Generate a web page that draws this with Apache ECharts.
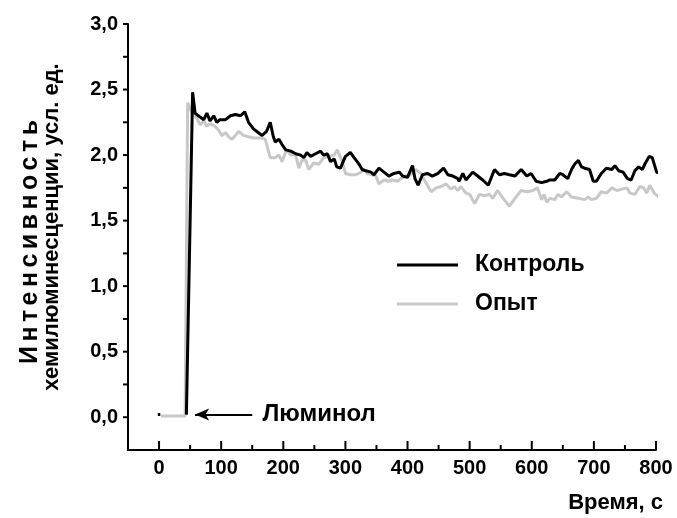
<!DOCTYPE html>
<html>
<head>
    <meta charset="utf-8">
    <title>Хемилюминесценция</title>
    <script src="https://cdn.jsdelivr.net/npm/echarts@6/dist/echarts.min.js"></script>
    <style>
        html, body { margin: 0; padding: 0; background: #fff; }
        #main { width: 677px; height: 518px; }
    </style>
</head>
<body>
<div id="main"></div>
<script type="text/javascript">
    // время, с  и  интенсивность, усл. ед.
    var ctrlTime = [-2, 2, 20, 44, 47, 54, 58, 66, 72, 77, 82, 88, 93, 98, 107, 115, 123, 131, 138, 144, 152, 160, 166, 173, 179, 184, 187, 193, 198, 204, 212, 220, 228, 233, 238, 244, 252, 260, 265, 271, 276, 282, 286, 292, 300, 308, 314, 322, 327, 333, 341, 346, 354, 362, 370, 378, 387, 392, 400, 408, 412, 417, 424, 432, 440, 449, 458, 465, 473, 481, 483, 489, 494, 505, 513, 521, 530, 540, 548, 556, 564, 573, 583, 592, 599, 607, 616, 624, 629, 637, 645, 650, 658, 664, 669, 675, 680, 685, 693, 699, 704, 712, 720, 729, 734, 740, 747, 754, 760, 766, 772, 778, 783, 789, 794, 801, 806];
    var ctrlVal = [0.02, 0.02, null, 0.02, 0.02, 2.48, 2.32, 2.29, 2.27, 2.32, 2.26, 2.30, 2.25, 2.27, 2.27, 2.30, 2.31, 2.30, 2.33, 2.25, 2.20, 2.17, 2.15, 2.18, 2.25, 2.14, 2.10, 2.12, 2.08, 2.04, 2.03, 2.01, 2.00, 1.98, 2.02, 1.99, 2.01, 2.03, 2.00, 2.01, 1.95, 1.97, 1.91, 1.90, 1.99, 2.02, 1.98, 1.93, 1.89, 1.88, 1.87, 1.85, 1.90, 1.87, 1.84, 1.86, 1.87, 1.84, 1.83, 1.92, 1.82, 1.77, 1.85, 1.86, 1.84, 1.86, 1.90, 1.85, 1.84, 1.82, 1.80, 1.86, 1.81, 1.87, 1.84, 1.81, 1.77, 1.89, 1.85, 1.86, 1.85, 1.84, 1.89, 1.84, 1.86, 1.80, 1.79, 1.80, 1.81, 1.81, 1.86, 1.85, 1.82, 1.89, 1.93, 1.96, 1.91, 1.90, 1.89, 1.80, 1.80, 1.86, 1.90, 1.89, 1.92, 1.88, 1.87, 1.82, 1.81, 1.88, 1.91, 1.89, 1.94, 1.99, 1.98, 1.87, 1.86];

    var expTime = [3, 42, 46, 53, 61, 66, 72, 77, 82, 90, 96, 101, 107, 112, 117, 123, 128, 136, 144, 152, 166, 171, 175, 179, 187, 193, 198, 205, 212, 220, 225, 230, 236, 241, 249, 257, 265, 273, 282, 287, 295, 300, 308, 317, 325, 330, 335, 343, 349, 354, 362, 369, 376, 384, 389, 397, 405, 413, 422, 427, 438, 446, 454, 462, 470, 475, 481, 486, 494, 500, 508, 516, 524, 532, 537, 545, 554, 564, 573, 583, 592, 602, 609, 616, 620, 624, 629, 637, 642, 648, 656, 664, 675, 685, 691, 696, 704, 712, 720, 729, 737, 745, 753, 758, 766, 774, 780, 785, 790, 797, 807];
    var expVal = [0.01, 0.01, 2.40, 2.32, 2.28, 2.23, 2.26, 2.22, 2.24, 2.22, 2.19, 2.15, 2.17, 2.14, 2.12, 2.15, 2.18, 2.15, 2.14, 2.13, 2.13, 2.12, 2.05, 1.98, 1.98, 2.00, 1.95, 2.04, 2.00, 2.00, 1.90, 1.96, 1.96, 1.89, 1.94, 1.93, 1.98, 1.99, 2.00, 2.04, 1.95, 1.86, 1.85, 1.85, 1.87, 1.89, 1.86, 1.85, 1.84, 1.78, 1.81, 1.80, 1.81, 1.80, 1.82, 1.84, 1.85, 1.89, 1.86, 1.81, 1.72, 1.75, 1.76, 1.78, 1.74, 1.76, 1.73, 1.76, 1.71, 1.70, 1.63, 1.70, 1.69, 1.70, 1.67, 1.73, 1.67, 1.61, 1.67, 1.73, 1.72, 1.73, 1.75, 1.66, 1.70, 1.64, 1.67, 1.66, 1.70, 1.68, 1.72, 1.68, 1.67, 1.66, 1.68, 1.66, 1.67, 1.72, 1.71, 1.75, 1.73, 1.74, 1.75, 1.71, 1.70, 1.76, 1.75, 1.71, 1.77, 1.71, 1.67];

    var xLabels = [0, 100, 200, 300, 400, 500, 600, 700, 800];
    var xMinor = [50, 150, 250, 350, 450, 550, 650, 750];
    var yLabels = [0, 0.5, 1, 1.5, 2, 2.5, 3];
    var yTicks = [0, 0.25, 0.5, 0.75, 1, 1.25, 1.5, 1.75, 2, 2.25, 2.5, 2.75, 3];

    var seriesNames = ['Контроль', 'Опыт'];
    var yTitle1 = 'Интенсивность';
    var yTitle2 = 'хемилюминесценции, усл. ед.';

    var X_MIN = -50, X_MAX = 800, Y_MIN = -0.25, Y_MAX = 3;

    function pairs(xs, ys) {
        var out = [];
        for (var i = 0; i < xs.length; i++) {
            out.push([xs[i], ys[i]]);
        }
        return out;
    }

    var FONT = "'Liberation Sans', Arial, sans-serif";

    // первая строка подписи оси Y в оригинале чуть разрежена — раскладываем по буквам
    function spacedVertical(text, font, x, yBottom, length) {
        var ctx = document.createElement('canvas').getContext('2d');
        ctx.font = font;
        var widths = [], total = 0;
        for (var i = 0; i < text.length; i++) {
            widths.push(ctx.measureText(text[i]).width);
            total += widths[i];
        }
        var extra = (length - total) / (text.length - 1);
        var els = [], pos = 0;
        for (var j = 0; j < text.length; j++) {
            els.push({
                type: 'text', x: x, y: yBottom - pos, rotation: Math.PI / 2,
                style: { text: text[j], font: font, fill: '#000', align: 'left', verticalAlign: 'middle' }
            });
            pos += widths[j] + extra;
        }
        return els;
    }

    var axisStyle = { color: '#000', width: 2 };

    var graphics = spacedVertical(yTitle1, 'bold 25px ' + FONT, 30, 364, 244).concat([
        {
            type: 'text', x: 52, y: 227, rotation: Math.PI / 2,
            style: { text: yTitle2, font: 'bold 22px ' + FONT, fill: '#000', align: 'center', verticalAlign: 'middle' }
        },
        {
            type: 'text', x: 663, y: 503,
            style: { text: 'Время, с', font: 'bold 22px ' + FONT, fill: '#000', align: 'right', verticalAlign: 'middle' }
        }
    ]);

    // засечки: custom-серии, позиция через api.coord
    function xTickItem(params, api) {
        var v = api.value(0);
        var p = api.coord([v, Y_MIN]);
        var len = (v % 100 === 0) ? 9 : 5;
        return {
            type: 'line',
            shape: { x1: p[0], y1: p[1], x2: p[0], y2: p[1] - len },
            style: { stroke: '#000', lineWidth: 2 }
        };
    }
    function yTickItem(params, api) {
        var p = api.coord([X_MIN, api.value(1)]);
        return {
            type: 'line',
            shape: { x1: p[0] - 5, y1: p[1], x2: p[0], y2: p[1] },
            style: { stroke: '#000', lineWidth: 2 }
        };
    }

    var myChart = echarts.init(document.getElementById('main'));
    var option = {
        backgroundColor: '#fff',
        animation: false,
        grid: { left: 128, right: 21, top: 24, bottom: 68 },
        legend: {
            orient: 'vertical',
            left: 397,
            top: 253,
            padding: 0,
            itemWidth: 61,
            itemHeight: 3,
            itemGap: 15,
            icon: 'rect',
            textStyle: { fontFamily: FONT, fontSize: 23, fontWeight: 'bold', color: '#000', padding: [0, 0, 0, 12], lineHeight: 24 },
            data: seriesNames
        },
        xAxis: {
            type: 'value',
            min: X_MIN,
            max: X_MAX,
            splitLine: { show: false },
            axisLine: { onZero: false, lineStyle: axisStyle },
            axisTick: { show: false },
            axisLabel: {
                customValues: xLabels, margin: 8,
                fontFamily: FONT, fontSize: 20, fontWeight: 'bold', color: '#000'
            }
        },
        yAxis: {
            type: 'value',
            min: Y_MIN,
            max: Y_MAX,
            splitLine: { show: false },
            axisLine: { show: true, onZero: false, lineStyle: axisStyle },
            axisTick: { show: false },
            axisLabel: {
                customValues: yLabels, margin: 10,
                fontFamily: FONT, fontSize: 20, fontWeight: 'bold', color: '#000',
                formatter: function (v) { return v.toFixed(1).replace('.', ','); }
            }
        },
        graphic: graphics,
        series: [
            {
                name: seriesNames[1],
                type: 'line',
                data: pairs(expTime, expVal),
                showSymbol: false,
                clip: false,
                z: 2,
                color: '#c8c8c8',
                lineStyle: { color: '#c8c8c8', width: 3 }
            },
            {
                name: seriesNames[0],
                type: 'line',
                data: pairs(ctrlTime, ctrlVal),
                showSymbol: false,
                connectNulls: false,
                clip: false,
                z: 3,
                color: '#000',
                lineStyle: { color: '#000', width: 3 },
                markLine: {
                    silent: true,
                    symbol: ['none', 'arrow'],
                    symbolSize: [9, 14],
                    label: { show: false },
                    lineStyle: { color: '#000', width: 2, type: 'solid' },
                    data: [[{ coord: [150, 0.02] }, { coord: [58, 0.02] }]]
                },
                markPoint: {
                    silent: true,
                    symbol: 'circle',
                    symbolSize: 0,
                    data: [{
                        coord: [160, 0.02],
                        label: {
                            show: true, position: 'right', distance: 4,
                            formatter: 'Люминол',
                            fontFamily: FONT, fontSize: 24, fontWeight: 'bold', color: '#000'
                        }
                    }]
                }
            },
            {
                type: 'custom',
                silent: true,
                clip: false,
                z: 5,
                renderItem: xTickItem,
                data: xLabels.concat(xMinor).map(function (v) { return [v, Y_MIN]; })
            },
            {
                type: 'custom',
                silent: true,
                clip: false,
                z: 5,
                renderItem: yTickItem,
                data: yTicks.map(function (v) { return [X_MIN, v]; })
            }
        ]
    };
    myChart.setOption(option);
</script>
</body>
</html>
